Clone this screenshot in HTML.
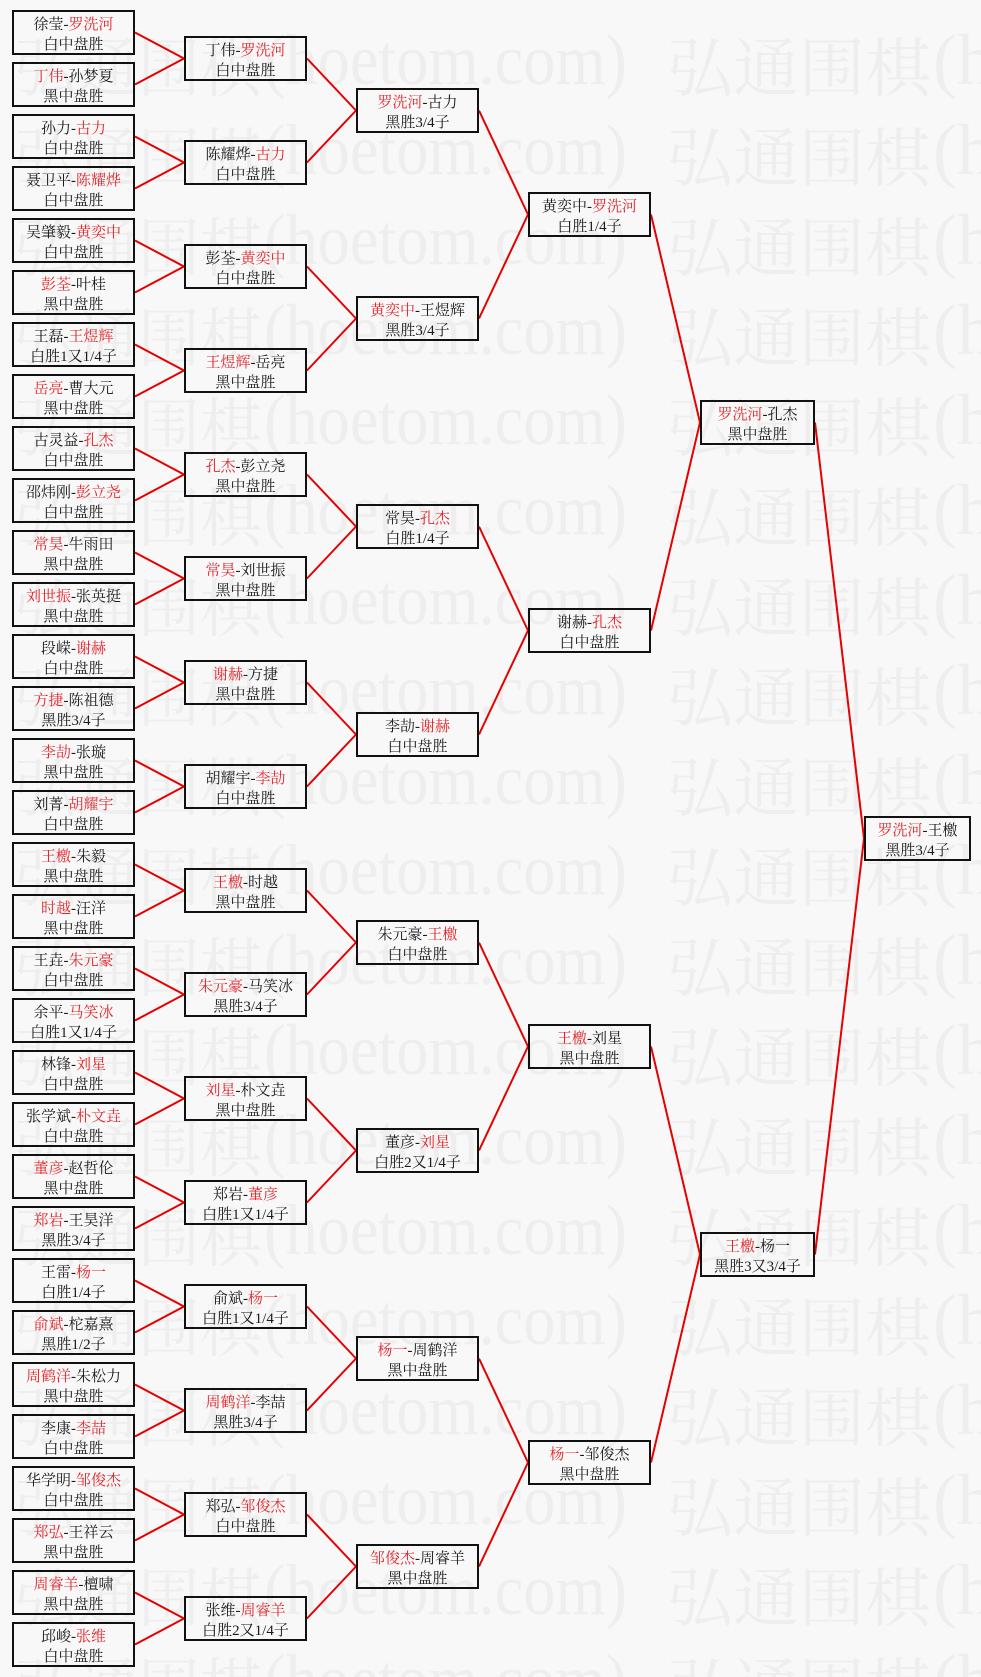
<!DOCTYPE html>
<html><head><meta charset="utf-8">
<style>
html,body{margin:0;padding:0}
body{width:981px;height:1677px;background:#f8f8f8;position:relative;overflow:hidden}
svg{position:absolute;left:0;top:0}
.b{position:absolute;box-sizing:border-box;height:45px;border:2px solid #111;font:15px/20px "Liberation Serif","Noto Serif CJK SC",serif;color:#1a1a1a;text-align:center;padding:3px 0 0 0;white-space:nowrap}
.c1{left:12px;width:123px}.c2{left:184px;width:123px}.c3{left:356px;width:123px}.c4{left:528px;width:123px}.c5{left:700px;width:115px}.c6{left:864px;width:107px}
.r{color:#e3262b}
.wm text{font-family:"Noto Serif CJK SC","Liberation Serif",serif;font-size:64px;fill:#eeeeee}
.wm text.l{font-family:"Liberation Serif",serif;font-size:72px}
</style></head><body>
<svg width="981" height="1677" class="wm">
<g>
<text x="14" y="91" textLength="248" lengthAdjust="spacingAndGlyphs">弘通围棋</text><text class="l" x="264" y="84" textLength="363" lengthAdjust="spacingAndGlyphs">(hoetom.com)</text><text x="667" y="91" textLength="264" lengthAdjust="spacingAndGlyphs">弘通围棋</text><text class="l" x="933" y="84">(h</text>
<text x="14" y="181" textLength="248" lengthAdjust="spacingAndGlyphs">弘通围棋</text><text class="l" x="264" y="174" textLength="363" lengthAdjust="spacingAndGlyphs">(hoetom.com)</text><text x="667" y="181" textLength="264" lengthAdjust="spacingAndGlyphs">弘通围棋</text><text class="l" x="933" y="174">(h</text>
<text x="14" y="271" textLength="248" lengthAdjust="spacingAndGlyphs">弘通围棋</text><text class="l" x="264" y="264" textLength="363" lengthAdjust="spacingAndGlyphs">(hoetom.com)</text><text x="667" y="271" textLength="264" lengthAdjust="spacingAndGlyphs">弘通围棋</text><text class="l" x="933" y="264">(h</text>
<text x="14" y="361" textLength="248" lengthAdjust="spacingAndGlyphs">弘通围棋</text><text class="l" x="264" y="354" textLength="363" lengthAdjust="spacingAndGlyphs">(hoetom.com)</text><text x="667" y="361" textLength="264" lengthAdjust="spacingAndGlyphs">弘通围棋</text><text class="l" x="933" y="354">(h</text>
<text x="14" y="451" textLength="248" lengthAdjust="spacingAndGlyphs">弘通围棋</text><text class="l" x="264" y="444" textLength="363" lengthAdjust="spacingAndGlyphs">(hoetom.com)</text><text x="667" y="451" textLength="264" lengthAdjust="spacingAndGlyphs">弘通围棋</text><text class="l" x="933" y="444">(h</text>
<text x="14" y="541" textLength="248" lengthAdjust="spacingAndGlyphs">弘通围棋</text><text class="l" x="264" y="534" textLength="363" lengthAdjust="spacingAndGlyphs">(hoetom.com)</text><text x="667" y="541" textLength="264" lengthAdjust="spacingAndGlyphs">弘通围棋</text><text class="l" x="933" y="534">(h</text>
<text x="14" y="631" textLength="248" lengthAdjust="spacingAndGlyphs">弘通围棋</text><text class="l" x="264" y="624" textLength="363" lengthAdjust="spacingAndGlyphs">(hoetom.com)</text><text x="667" y="631" textLength="264" lengthAdjust="spacingAndGlyphs">弘通围棋</text><text class="l" x="933" y="624">(h</text>
<text x="14" y="721" textLength="248" lengthAdjust="spacingAndGlyphs">弘通围棋</text><text class="l" x="264" y="714" textLength="363" lengthAdjust="spacingAndGlyphs">(hoetom.com)</text><text x="667" y="721" textLength="264" lengthAdjust="spacingAndGlyphs">弘通围棋</text><text class="l" x="933" y="714">(h</text>
<text x="14" y="811" textLength="248" lengthAdjust="spacingAndGlyphs">弘通围棋</text><text class="l" x="264" y="804" textLength="363" lengthAdjust="spacingAndGlyphs">(hoetom.com)</text><text x="667" y="811" textLength="264" lengthAdjust="spacingAndGlyphs">弘通围棋</text><text class="l" x="933" y="804">(h</text>
<text x="14" y="901" textLength="248" lengthAdjust="spacingAndGlyphs">弘通围棋</text><text class="l" x="264" y="894" textLength="363" lengthAdjust="spacingAndGlyphs">(hoetom.com)</text><text x="667" y="901" textLength="264" lengthAdjust="spacingAndGlyphs">弘通围棋</text><text class="l" x="933" y="894">(h</text>
<text x="14" y="991" textLength="248" lengthAdjust="spacingAndGlyphs">弘通围棋</text><text class="l" x="264" y="984" textLength="363" lengthAdjust="spacingAndGlyphs">(hoetom.com)</text><text x="667" y="991" textLength="264" lengthAdjust="spacingAndGlyphs">弘通围棋</text><text class="l" x="933" y="984">(h</text>
<text x="14" y="1081" textLength="248" lengthAdjust="spacingAndGlyphs">弘通围棋</text><text class="l" x="264" y="1074" textLength="363" lengthAdjust="spacingAndGlyphs">(hoetom.com)</text><text x="667" y="1081" textLength="264" lengthAdjust="spacingAndGlyphs">弘通围棋</text><text class="l" x="933" y="1074">(h</text>
<text x="14" y="1171" textLength="248" lengthAdjust="spacingAndGlyphs">弘通围棋</text><text class="l" x="264" y="1164" textLength="363" lengthAdjust="spacingAndGlyphs">(hoetom.com)</text><text x="667" y="1171" textLength="264" lengthAdjust="spacingAndGlyphs">弘通围棋</text><text class="l" x="933" y="1164">(h</text>
<text x="14" y="1261" textLength="248" lengthAdjust="spacingAndGlyphs">弘通围棋</text><text class="l" x="264" y="1254" textLength="363" lengthAdjust="spacingAndGlyphs">(hoetom.com)</text><text x="667" y="1261" textLength="264" lengthAdjust="spacingAndGlyphs">弘通围棋</text><text class="l" x="933" y="1254">(h</text>
<text x="14" y="1351" textLength="248" lengthAdjust="spacingAndGlyphs">弘通围棋</text><text class="l" x="264" y="1344" textLength="363" lengthAdjust="spacingAndGlyphs">(hoetom.com)</text><text x="667" y="1351" textLength="264" lengthAdjust="spacingAndGlyphs">弘通围棋</text><text class="l" x="933" y="1344">(h</text>
<text x="14" y="1441" textLength="248" lengthAdjust="spacingAndGlyphs">弘通围棋</text><text class="l" x="264" y="1434" textLength="363" lengthAdjust="spacingAndGlyphs">(hoetom.com)</text><text x="667" y="1441" textLength="264" lengthAdjust="spacingAndGlyphs">弘通围棋</text><text class="l" x="933" y="1434">(h</text>
<text x="14" y="1531" textLength="248" lengthAdjust="spacingAndGlyphs">弘通围棋</text><text class="l" x="264" y="1524" textLength="363" lengthAdjust="spacingAndGlyphs">(hoetom.com)</text><text x="667" y="1531" textLength="264" lengthAdjust="spacingAndGlyphs">弘通围棋</text><text class="l" x="933" y="1524">(h</text>
<text x="14" y="1621" textLength="248" lengthAdjust="spacingAndGlyphs">弘通围棋</text><text class="l" x="264" y="1614" textLength="363" lengthAdjust="spacingAndGlyphs">(hoetom.com)</text><text x="667" y="1621" textLength="264" lengthAdjust="spacingAndGlyphs">弘通围棋</text><text class="l" x="933" y="1614">(h</text>
<text x="14" y="1711" textLength="248" lengthAdjust="spacingAndGlyphs">弘通围棋</text><text class="l" x="264" y="1704" textLength="363" lengthAdjust="spacingAndGlyphs">(hoetom.com)</text><text x="667" y="1711" textLength="264" lengthAdjust="spacingAndGlyphs">弘通围棋</text><text class="l" x="933" y="1704">(h</text>
</g>
<g fill="none" stroke="#e60000" stroke-width="2" stroke-linejoin="bevel">
<path d="M135 32.5L184 58.5L135 84.5M135 136.5L184 162.5L135 188.5M135 240.5L184 266.5L135 292.5M135 344.5L184 370.5L135 396.5M135 448.5L184 474.5L135 500.5M135 552.5L184 578.5L135 604.5M135 656.5L184 682.5L135 708.5M135 760.5L184 786.5L135 812.5M135 864.5L184 890.5L135 916.5M135 968.5L184 994.5L135 1020.5M135 1072.5L184 1098.5L135 1124.5M135 1176.5L184 1202.5L135 1228.5M135 1280.5L184 1306.5L135 1332.5M135 1384.5L184 1410.5L135 1436.5M135 1488.5L184 1514.5L135 1540.5M135 1592.5L184 1618.5L135 1644.5"/>
<path d="M307 58.5L356 110.5L307 162.5M307 266.5L356 318.5L307 370.5M307 474.5L356 526.5L307 578.5M307 682.5L356 734.5L307 786.5M307 890.5L356 942.5L307 994.5M307 1098.5L356 1150.5L307 1202.5M307 1306.5L356 1358.5L307 1410.5M307 1514.5L356 1566.5L307 1618.5"/>
<path d="M479 110.5L528 214.5L479 318.5M479 526.5L528 630.5L479 734.5M479 942.5L528 1046.5L479 1150.5M479 1358.5L528 1462.5L479 1566.5"/>
<path d="M651 214.5L700 422.5L651 630.5M651 1046.5L700 1254.5L651 1462.5"/>
<path d="M815 422.5L864 838.5L815 1254.5"/>
</g>
</svg>

<div class="b c1" style="top:10px">徐莹-<span class="r">罗洗河</span><br>白中盘胜</div>
<div class="b c1" style="top:62px"><span class="r">丁伟</span>-孙梦夏<br>黑中盘胜</div>
<div class="b c1" style="top:114px">孙力-<span class="r">古力</span><br>白中盘胜</div>
<div class="b c1" style="top:166px">聂卫平-<span class="r">陈耀烨</span><br>白中盘胜</div>
<div class="b c1" style="top:218px">吴肇毅-<span class="r">黄奕中</span><br>白中盘胜</div>
<div class="b c1" style="top:270px"><span class="r">彭荃</span>-叶桂<br>黑中盘胜</div>
<div class="b c1" style="top:322px">王磊-<span class="r">王煜辉</span><br>白胜1又1/4子</div>
<div class="b c1" style="top:374px"><span class="r">岳亮</span>-曹大元<br>黑中盘胜</div>
<div class="b c1" style="top:426px">古灵益-<span class="r">孔杰</span><br>白中盘胜</div>
<div class="b c1" style="top:478px">邵炜刚-<span class="r">彭立尧</span><br>白中盘胜</div>
<div class="b c1" style="top:530px"><span class="r">常昊</span>-牛雨田<br>黑中盘胜</div>
<div class="b c1" style="top:582px"><span class="r">刘世振</span>-张英挺<br>黑中盘胜</div>
<div class="b c1" style="top:634px">段嵘-<span class="r">谢赫</span><br>白中盘胜</div>
<div class="b c1" style="top:686px"><span class="r">方捷</span>-陈祖德<br>黑胜3/4子</div>
<div class="b c1" style="top:738px"><span class="r">李劼</span>-张璇<br>黑中盘胜</div>
<div class="b c1" style="top:790px">刘菁-<span class="r">胡耀宇</span><br>白中盘胜</div>
<div class="b c1" style="top:842px"><span class="r">王檄</span>-朱毅<br>黑中盘胜</div>
<div class="b c1" style="top:894px"><span class="r">时越</span>-汪洋<br>黑中盘胜</div>
<div class="b c1" style="top:946px">王垚-<span class="r">朱元豪</span><br>白中盘胜</div>
<div class="b c1" style="top:998px">余平-<span class="r">马笑冰</span><br>白胜1又1/4子</div>
<div class="b c1" style="top:1050px">林锋-<span class="r">刘星</span><br>白中盘胜</div>
<div class="b c1" style="top:1102px">张学斌-<span class="r">朴文垚</span><br>白中盘胜</div>
<div class="b c1" style="top:1154px"><span class="r">董彦</span>-赵哲伦<br>黑中盘胜</div>
<div class="b c1" style="top:1206px"><span class="r">郑岩</span>-王昊洋<br>黑胜3/4子</div>
<div class="b c1" style="top:1258px">王雷-<span class="r">杨一</span><br>白胜1/4子</div>
<div class="b c1" style="top:1310px"><span class="r">俞斌</span>-柁嘉熹<br>黑胜1/2子</div>
<div class="b c1" style="top:1362px"><span class="r">周鹤洋</span>-朱松力<br>黑中盘胜</div>
<div class="b c1" style="top:1414px">李康-<span class="r">李喆</span><br>白中盘胜</div>
<div class="b c1" style="top:1466px">华学明-<span class="r">邹俊杰</span><br>白中盘胜</div>
<div class="b c1" style="top:1518px"><span class="r">郑弘</span>-王祥云<br>黑中盘胜</div>
<div class="b c1" style="top:1570px"><span class="r">周睿羊</span>-檀啸<br>黑中盘胜</div>
<div class="b c1" style="top:1622px">邱峻-<span class="r">张维</span><br>白中盘胜</div>

<div class="b c2" style="top:36px">丁伟-<span class="r">罗洗河</span><br>白中盘胜</div>
<div class="b c2" style="top:140px">陈耀烨-<span class="r">古力</span><br>白中盘胜</div>
<div class="b c2" style="top:244px">彭荃-<span class="r">黄奕中</span><br>白中盘胜</div>
<div class="b c2" style="top:348px"><span class="r">王煜辉</span>-岳亮<br>黑中盘胜</div>
<div class="b c2" style="top:452px"><span class="r">孔杰</span>-彭立尧<br>黑中盘胜</div>
<div class="b c2" style="top:556px"><span class="r">常昊</span>-刘世振<br>黑中盘胜</div>
<div class="b c2" style="top:660px"><span class="r">谢赫</span>-方捷<br>黑中盘胜</div>
<div class="b c2" style="top:764px">胡耀宇-<span class="r">李劼</span><br>白中盘胜</div>
<div class="b c2" style="top:868px"><span class="r">王檄</span>-时越<br>黑中盘胜</div>
<div class="b c2" style="top:972px"><span class="r">朱元豪</span>-马笑冰<br>黑胜3/4子</div>
<div class="b c2" style="top:1076px"><span class="r">刘星</span>-朴文垚<br>黑中盘胜</div>
<div class="b c2" style="top:1180px">郑岩-<span class="r">董彦</span><br>白胜1又1/4子</div>
<div class="b c2" style="top:1284px">俞斌-<span class="r">杨一</span><br>白胜1又1/4子</div>
<div class="b c2" style="top:1388px"><span class="r">周鹤洋</span>-李喆<br>黑胜3/4子</div>
<div class="b c2" style="top:1492px">郑弘-<span class="r">邹俊杰</span><br>白中盘胜</div>
<div class="b c2" style="top:1596px">张维-<span class="r">周睿羊</span><br>白胜2又1/4子</div>

<div class="b c3" style="top:88px"><span class="r">罗洗河</span>-古力<br>黑胜3/4子</div>
<div class="b c3" style="top:296px"><span class="r">黄奕中</span>-王煜辉<br>黑胜3/4子</div>
<div class="b c3" style="top:504px">常昊-<span class="r">孔杰</span><br>白胜1/4子</div>
<div class="b c3" style="top:712px">李劼-<span class="r">谢赫</span><br>白中盘胜</div>
<div class="b c3" style="top:920px">朱元豪-<span class="r">王檄</span><br>白中盘胜</div>
<div class="b c3" style="top:1128px">董彦-<span class="r">刘星</span><br>白胜2又1/4子</div>
<div class="b c3" style="top:1336px"><span class="r">杨一</span>-周鹤洋<br>黑中盘胜</div>
<div class="b c3" style="top:1544px"><span class="r">邹俊杰</span>-周睿羊<br>黑中盘胜</div>

<div class="b c4" style="top:192px">黄奕中-<span class="r">罗洗河</span><br>白胜1/4子</div>
<div class="b c4" style="top:608px">谢赫-<span class="r">孔杰</span><br>白中盘胜</div>
<div class="b c4" style="top:1024px"><span class="r">王檄</span>-刘星<br>黑中盘胜</div>
<div class="b c4" style="top:1440px"><span class="r">杨一</span>-邹俊杰<br>黑中盘胜</div>

<div class="b c5" style="top:400px"><span class="r">罗洗河</span>-孔杰<br>黑中盘胜</div>
<div class="b c5" style="top:1232px"><span class="r">王檄</span>-杨一<br>黑胜3又3/4子</div>

<div class="b c6" style="top:816px"><span class="r">罗洗河</span>-王檄<br>黑胜3/4子</div>
</body></html>
